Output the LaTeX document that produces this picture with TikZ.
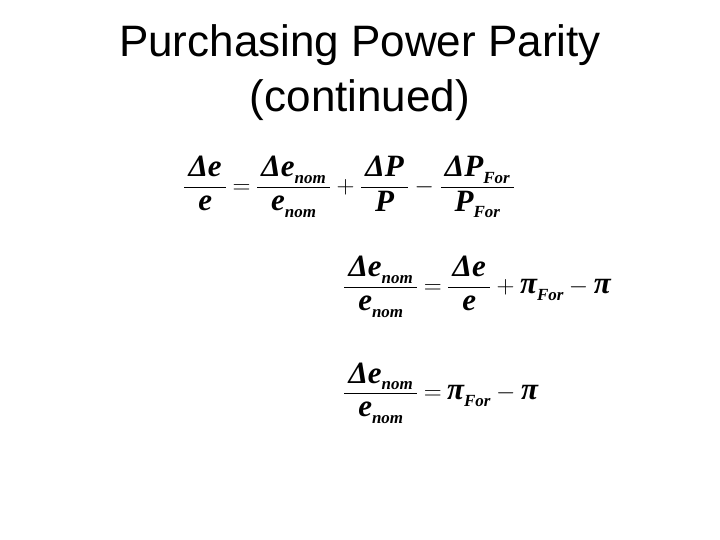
\documentclass[tikz,border=0pt]{standalone}
\usepackage{amsmath}
\usepackage{fontspec}
\setmainfont{Liberation Serif}
\setsansfont{Liberation Sans}
\newcommand\bi[1]{\text{\bfseries\itshape #1}}
\newcommand\sbi[1]{\text{\raisebox{-0.45ex}{\bfseries\itshape\fontsize{17}{17}\selectfont #1}}}
\newcommand\fr[2]{\frac{\,#1\,}{\,#2\,}}
\newcommand\op[1]{\mathbin{#1}}
\begin{document}
\begin{tikzpicture}[x=1pt,y=-1pt,
  title/.style={font=\sffamily\fontsize{44}{50}\selectfont,anchor=center},
  eq/.style={font=\fontsize{31}{36}\selectfont,anchor=west,inner sep=0pt}]
\useasboundingbox (0,0) rectangle (720,540);
\node[title] (t1) at (360,45) {Purchasing Power Parity};
\node[title] (t2) at (360,100) {(continued)};
\node[eq] (e1) at (183,187) {$\displaystyle\fr{\bi{Δe}}{\bi{e}}\op{=}\fr{\bi{Δe}\sbi{nom}}{\bi{e}\sbi{nom}}\op{+}\fr{\bi{ΔP}}{\bi{P}}\op{-}\fr{\bi{ΔP}\sbi{For}}{\bi{P}\sbi{For}}$};
\node[eq] (e2) at (343,287) {$\displaystyle\fr{\bi{Δe}\sbi{nom}}{\bi{e}\sbi{nom}}\op{=}\fr{\bi{Δe}}{\bi{e}}\op{+}\bi{π}\sbi{For}\op{-}\bi{π}$};
\node[eq] (e3) at (343,393) {$\displaystyle\fr{\bi{Δe}\sbi{nom}}{\bi{e}\sbi{nom}}\op{=}\bi{π}\sbi{For}\op{-}\bi{π}$};
\end{tikzpicture}
\end{document}
